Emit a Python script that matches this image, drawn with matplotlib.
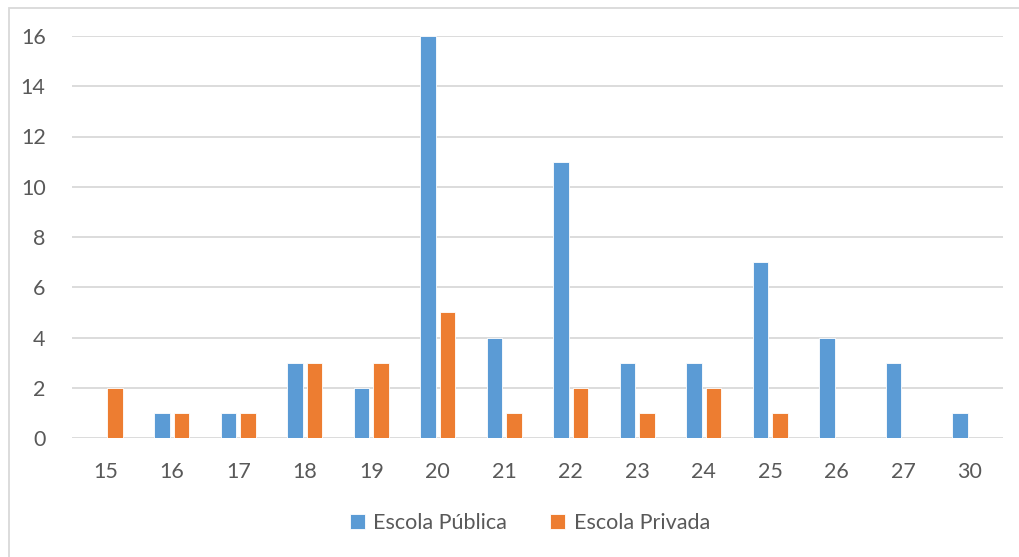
import numpy as np
import matplotlib.pyplot as plt
from matplotlib.patches import Rectangle

# Dados
idades = ['15', '16', '17', '18', '19', '20', '21', '22', '23', '24', '25', '26', '27', '30']
publica = [0, 1, 1, 3, 2, 16, 4, 11, 3, 3, 7, 4, 3, 1]
privada = [2, 1, 1, 3, 3, 5, 1, 2, 1, 2, 1, 0, 0, 0]

azul = '#5B9BD5'
laranja = '#ED7D31'
cinza = '#595959'

plt.rcParams['font.family'] = ['Lato', 'DejaVu Sans']

fig = plt.figure(figsize=(10.19, 5.57), dpi=100)
ax = fig.add_axes([72/1019, 1 - 438/557, (1003 - 72)/1019, (438 - 36)/557])

x = np.arange(len(idades))
w = 0.235
off = 0.145
ax.bar(x - off, publica, w, color=azul, edgecolor='white', linewidth=0.6, label='Escola Pública', zorder=3)
ax.bar(x + off, privada, w, color=laranja, edgecolor='white', linewidth=0.6, label='Escola Privada', zorder=3)

ax.set_xlim(-0.5, len(idades) - 0.5)
ax.set_ylim(0, 16)
ax.set_yticks(range(0, 17, 2))
ax.set_xticks(x)
ax.set_xticklabels(idades)
ax.grid(axis='y', color='#D9D9D9', linewidth=1.3, zorder=0)
for s in ax.spines.values():
    s.set_visible(False)
ax.tick_params(length=0, labelsize=15.5, colors=cinza)
ax.tick_params(axis='x', pad=17)
ax.tick_params(axis='y', pad=19)

leg = fig.legend(loc='center', bbox_to_anchor=(530/1019, 1 - 523/557), ncol=2, frameon=False,
                 fontsize=15.5, handlelength=0.7, handleheight=0.7, handletextpad=0.4, columnspacing=2.0)
for t in leg.get_texts():
    t.set_color(cinza)

# moldura da área do gráfico
fig.patches.append(Rectangle((9/1019, -0.05), 1.1, 1 - 8/557 + 0.05, transform=fig.transFigure,
                             fill=False, edgecolor='#D9D9D9', linewidth=1.3))

fig.savefig('out.png', dpi=100)
